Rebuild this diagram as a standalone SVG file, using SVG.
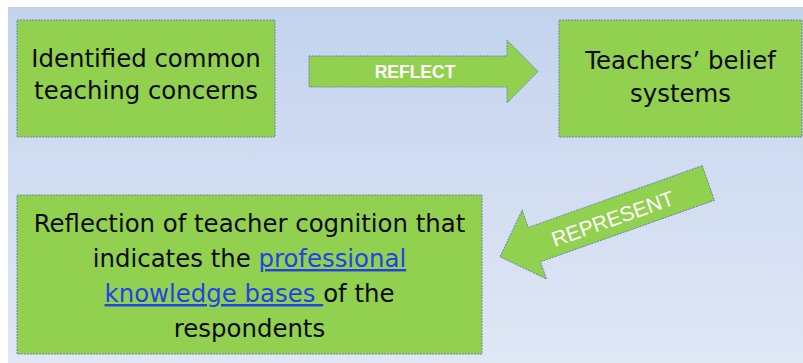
<svg xmlns="http://www.w3.org/2000/svg" width="803" height="363" viewBox="0 0 803 363">
  <defs>
    <linearGradient id="bg" x1="0" y1="0" x2="0" y2="1">
      <stop offset="0" stop-color="#c3d3ee"/>
      <stop offset="1" stop-color="#e0e7f5"/>
    </linearGradient>
  </defs>
  <style>
    .shape { fill: #92d050; stroke: #6a8aa6; stroke-width: 1; stroke-dasharray: 2 1; }
    .t { font-family: "DejaVu Sans", sans-serif; font-size: 24.4px; fill: #0a0a0a; text-anchor: middle; }
    .link { fill: #2443e4; text-decoration: underline; }
    .lbl { font-family: "Liberation Sans", Arial, sans-serif; fill: #ffffff; text-anchor: middle; }
  </style>
  <rect x="0" y="0" width="803" height="363" fill="#ffffff"/>
  <rect x="8" y="7" width="795" height="356" fill="url(#bg)"/>

  <g id="connectors">
    <g id="reflect">
      <path class="shape" d="M309,56 H507 V40 L538,71.5 L507,103 V87 H309 Z"/>
      <text class="lbl" x="415" y="78" font-size="17.5" font-weight="bold">REFLECT</text>
    </g>
    <g id="represent" transform="translate(708.3,183) rotate(-19.5)">
      <path class="shape" d="M0,-18.25 H-184.6 V-36.4 L-221,0 L-184.6,36.4 V18.25 H0 Z"/>
      <text class="lbl" x="-102" y="9" font-size="21">REPRESENT</text>
    </g>
  </g>

  <g id="node-concerns">
    <rect class="shape" x="17" y="20" width="258" height="117"/>
    <text class="t" x="146" y="67">Identified common</text>
    <text class="t" x="146" y="99">teaching concerns</text>
  </g>

  <g id="node-beliefs">
    <rect class="shape" x="559" y="20" width="243" height="117"/>
    <text class="t" x="680.5" y="69">Teachers’ belief</text>
    <text class="t" x="680.5" y="102">systems</text>
  </g>

  <g id="node-reflection">
    <rect class="shape" x="17" y="195" width="465" height="159"/>
    <text class="t" x="249.5" y="232">Reflection of teacher cognition that</text>
    <text class="t" x="249.5" y="267">indicates the <tspan class="link">professional</tspan></text>
    <text class="t" x="249.5" y="302"><tspan class="link">knowledge bases </tspan>of the</text>
    <text class="t" x="249.5" y="337">respondents</text>
  </g>
</svg>
